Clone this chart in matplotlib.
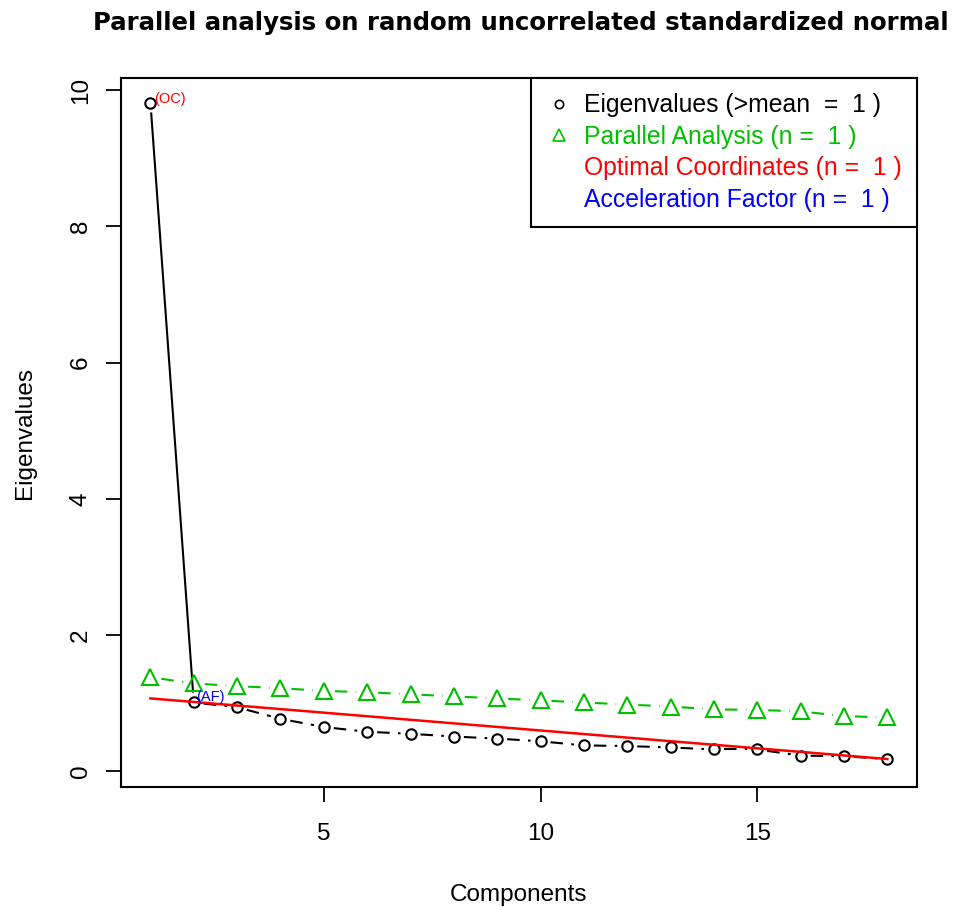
import numpy as np
import matplotlib.pyplot as plt
from matplotlib.lines import Line2D

components = np.arange(1, 19)
eigenvalues = [9.82, 1.01, 0.94, 0.77, 0.65, 0.58, 0.55, 0.51, 0.48,
               0.44, 0.38, 0.37, 0.35, 0.32, 0.32, 0.23, 0.22, 0.18]
parallel = [1.38, 1.29, 1.25, 1.22, 1.18, 1.16, 1.13, 1.10, 1.07,
            1.04, 1.01, 0.98, 0.95, 0.91, 0.90, 0.88, 0.81, 0.79]
oc_line_x = [1, 18]
oc_line_y = [1.07, 0.18]

legend_labels = ["Eigenvalues (>mean  =  1 )",
                 "Parallel Analysis (n =  1 )",
                 "Optimal Coordinates (n =  1 )",
                 "Acceleration Factor (n =  1 )"]
legend_colors = ["black", "#00c000", "red", "blue"]

plt.rcParams["font.family"] = ["Liberation Sans", "DejaVu Sans"]

fig = plt.figure(figsize=(9.6, 9.07), dpi=100)
ax = fig.add_axes([0.126, 0.132, 0.829, 0.782])
ax.set_xlim(0.32, 18.68)
ax.set_ylim(-0.235, 10.18)


def gapped(ax, x, y, gap_px, **kw):
    # R type="b": segments stop short of each point
    pts = ax.transData.transform(np.column_stack([x, y]))
    inv = ax.transData.inverted()
    for p0, p1 in zip(pts[:-1], pts[1:]):
        d = p1 - p0
        n = np.hypot(*d)
        if n <= 2 * gap_px:
            continue
        u = d / n
        a = inv.transform(p0 + u * gap_px)
        b = inv.transform(p1 - u * gap_px)
        ax.plot([a[0], b[0]], [a[1], b[1]], **kw)


# eigenvalues: solid first drop, dashed afterwards
gapped(ax, components[:2], eigenvalues[:2], 11, color="black", lw=1.5)
gapped(ax, components[1:], eigenvalues[1:], 10, color="black", lw=1.5,
       linestyle=(0, (6, 4)))
ax.plot(components, eigenvalues, "o", mfc="none", mec="black", ms=7.5, mew=1.5)

gapped(ax, components, parallel, 11, color="#00c000", lw=1.5,
       linestyle=(0, (6, 4)))
ax.plot(components, parallel, "^", mfc="none", mec="#00c000", ms=11, mew=1.5)

ax.plot(oc_line_x, oc_line_y, color="red", lw=1.8)

ax.annotate("(OC)", (components[0], eigenvalues[0]), xytext=(3, 0),
            textcoords="offset points", color="red", fontsize=10.5)
ax.annotate("(AF)", (components[1], eigenvalues[1]), xytext=(2, 1),
            textcoords="offset points", color="blue", fontsize=10.5)

ax.set_xticks([5, 10, 15])
ax.set_yticks([0, 2, 4, 6, 8, 10])
ax.tick_params(length=11, width=1.3, labelsize=17.5)
ax.tick_params(axis="x", pad=15)
ax.tick_params(axis="y", pad=10)
for lab in ax.get_yticklabels():
    lab.set_rotation(90)
    lab.set_va("center")
for s in ax.spines.values():
    s.set_linewidth(1.5)

ax.set_xlabel("Components", fontsize=17.5, labelpad=28)
ax.set_ylabel("Eigenvalues", fontsize=17.5, labelpad=24)
fig.text(0.542, 0.975, "Parallel analysis on random uncorrelated standardized normal",
         ha="center", va="center", fontsize=17.6, fontweight="bold",
         family="DejaVu Sans")

handles = [Line2D([], [], marker="o", ls="none", mfc="none", mec="black", ms=6, mew=1.2),
           Line2D([], [], marker="^", ls="none", mfc="none", mec="#00c000", ms=9, mew=1.2),
           Line2D([], [], ls="none"),
           Line2D([], [], ls="none")]
leg = ax.legend(handles, legend_labels, loc="upper right", borderaxespad=0,
                fancybox=False, edgecolor="black", fontsize=17.8,
                labelcolor=legend_colors, handlelength=1.0, handletextpad=0.5,
                borderpad=0.62, labelspacing=0.3, framealpha=1)
leg.get_frame().set_linewidth(1.5)

fig.savefig("out.png", dpi=100)
